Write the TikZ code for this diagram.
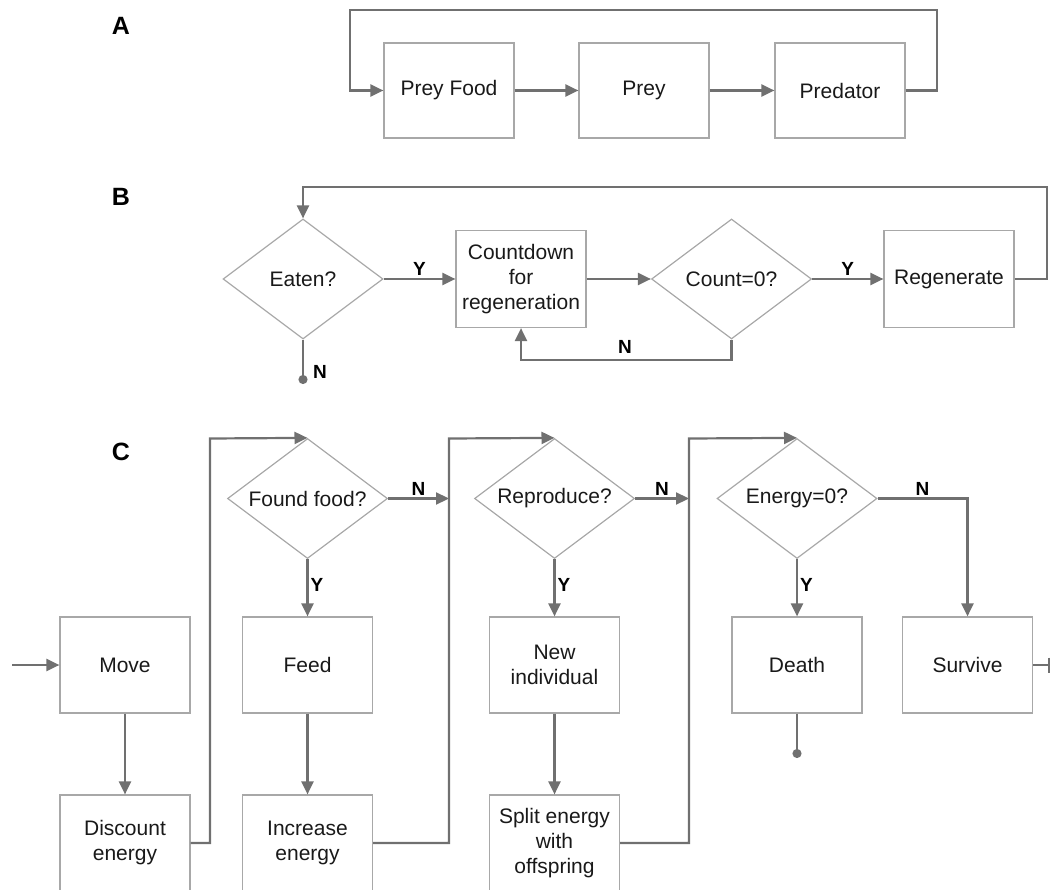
\documentclass[tikz,border=0pt]{standalone}
\usepackage{fontspec}
\setmainfont{Liberation Sans}
\usetikzlibrary{arrows.meta,shapes.geometric}
\definecolor{ln}{HTML}{707070}
\definecolor{bx}{HTML}{A8A8A8}
\begin{document}
\begin{tikzpicture}[x=1pt,y=-1pt,
  box/.style={draw=bx,line width=1.2pt,minimum width=130pt,minimum height=96pt,inner sep=0pt,align=center,font=\fontsize{21}{25}\selectfont,text=black!90},
  dia/.style={draw=bx,line width=1.2pt,shape=diamond,aspect=1.333,minimum width=160pt,minimum height=120pt,inner sep=0pt,align=center,font=\fontsize{21}{25}\selectfont,text=black!90},
  conn/.style={draw=ln,line width=2.2pt,-{Triangle[length=13pt,width=12pt]}},
  dotc/.style={draw=ln,line width=2pt,-{Circle[length=9pt]}},
  barc/.style={draw=ln,line width=2pt,-{Bar[width=15pt]}},
  lbl/.style={font=\bfseries\fontsize{19}{22}\selectfont,text=black,inner sep=2pt},
  panel/.style={font=\bfseries\fontsize{25}{30}\selectfont,text=black}]
\useasboundingbox (0,0) rectangle (1051,890);

% ---------- Panel A ----------
\node[panel] (la) at (121,26) {A};
\node[box,minimum height=95pt] (pf) at (449,90.5) {Prey Food};
\node[box,minimum height=95pt] (prey) at (644,90.5) {Prey};
\node[box,minimum height=95pt] (pred) at (840,90.5) {Predator};
\coordinate (a1) at (937,10);
\coordinate (a2) at (350,10);
\draw[conn] (pf) -- (prey);
\draw[conn] (prey) -- (pred);
\draw[conn] (pred.east) -| (a1) -- (a2) |- (pf.west);

% ---------- Panel B ----------
\node[panel] (lb) at (121,197) {B};
\node[dia] (eat) at (303,279) {Eaten?};
\node[box,minimum height=97pt] (cd) at (521,279) {Countdown\\for\\regeneration};
\node[dia] (cnt) at (731.5,279) {Count=0?};
\node[box,minimum height=97pt] (reg) at (949,279) {Regenerate};
\coordinate (b1) at (1047,187);
\coordinate (b2) at (521,360);
\coordinate (b3) at (303,384);
\draw[conn] (eat) -- node[lbl,above]{Y} (cd);
\draw[conn] (cd) -- (cnt);
\draw[conn] (cnt) -- node[lbl,above]{Y} (reg);
\draw[conn] (reg.east) -| (b1) -| (eat.north);
\draw[conn] (cnt.south) |- (b2) -- (cd.south);
\node[lbl] (nb1) at (625,347) {N};
\draw[dotc] (eat.south) -- (b3);
\node[lbl] (nb2) at (320,372) {N};

% ---------- Panel C ----------
\node[panel] (lc) at (121,452) {C};
\node[box] (move) at (125,665) {Move};
\node[box] (disc) at (125,843) {Discount\\energy};
\node[box] (feed) at (307.5,665) {Feed};
\node[box] (inc) at (307.5,843) {Increase\\energy};
\node[box] (new) at (554.5,665) {New\\individual};
\node[box] (split) at (554.5,843) {Split energy\\with\\offspring};
\node[box] (death) at (797,665) {Death};
\node[box] (surv) at (967.5,665) {Survive};
\node[dia] (ff) at (307.5,498.5) {Found food?};
\node[dia] (rep) at (554.5,498.5) {Reproduce?};
\node[dia] (en) at (797,498.5) {Energy=0?};

\coordinate (cin) at (12,665);
\coordinate (c1) at (210,438.5);
\coordinate (c2) at (449,438.5);
\coordinate (c3) at (689,438.5);
\coordinate (c2m) at (449,498.5);
\coordinate (c3m) at (689,498.5);
\coordinate (c4) at (797,758);
\coordinate (c5) at (1050,665);

\draw[conn] (cin) -- (move);
\draw[conn] (move) -- (disc);
\draw[conn] (feed) -- (inc);
\draw[conn] (new) -- (split);
\draw[conn] (disc.east) -| (c1) -- (ff.north);
\draw[conn] (inc.east) -| (c2) -- (rep.north);
\draw[conn] (split.east) -| (c3) -- (en.north);
\draw[conn] (ff.east) -- node[lbl,above]{N} (c2m);
\draw[conn] (rep.east) -- node[lbl,above]{N} (c3m);
\draw[conn] (en.east) -| node[lbl,above,pos=0.25]{N} (surv.north);
\draw[conn] (ff.south) -- node[lbl,right,pos=0.45]{Y} (feed.north);
\draw[conn] (rep.south) -- node[lbl,right,pos=0.45]{Y} (new.north);
\draw[conn] (en.south) -- node[lbl,right,pos=0.45]{Y} (death.north);
\draw[dotc] (death.south) -- (c4);
\draw[barc] (surv.east) -- (c5);
\end{tikzpicture}
\end{document}
